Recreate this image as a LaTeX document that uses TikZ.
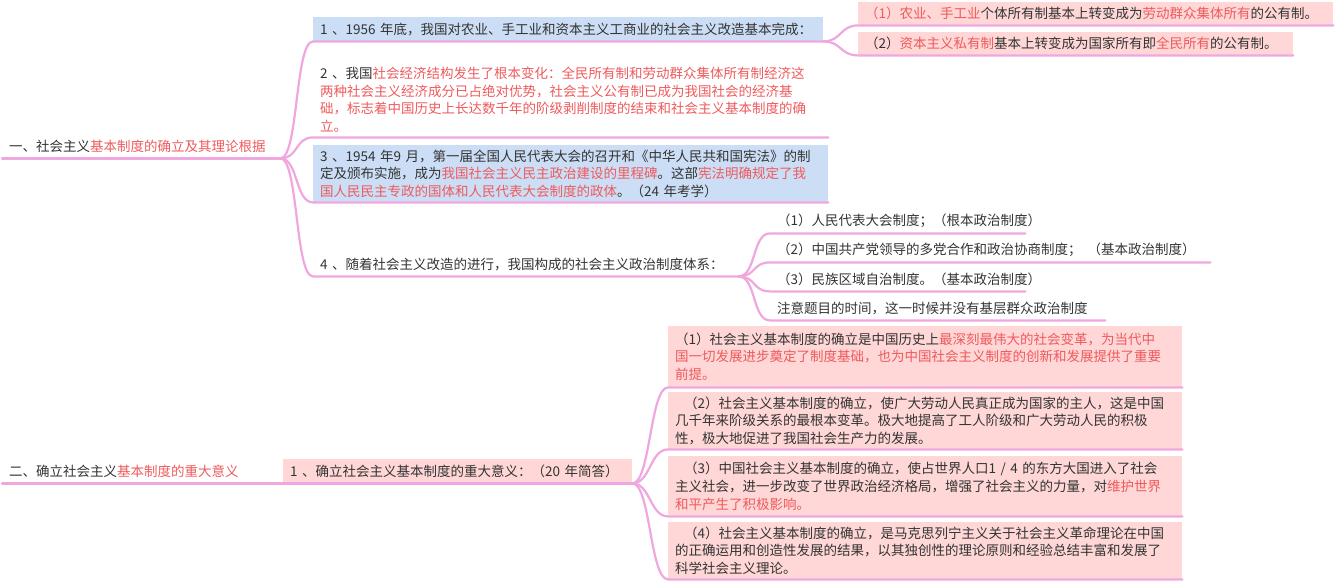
\documentclass[tikz,border=0pt]{standalone}
\usepackage{fontspec}
\setmainfont{Noto Sans CJK SC}

\definecolor{ink}{HTML}{333333}
\definecolor{hot}{HTML}{EE5A5C}
\definecolor{twig}{HTML}{F0A6DE}
\definecolor{skyfill}{HTML}{CCDEF6}
\definecolor{rosefill}{HTML}{FFD7D7}
\newcommand{\kw}[1]{\textcolor{hot}{#1}}

\begin{document}
\begin{tikzpicture}[
  x=1pt, y=-1pt,
  txt/.style={anchor=north west, inner xsep=7pt, inner ysep=0pt, align=left, text=ink, font=\fontsize{13.5pt}{17.7pt}\selectfont},
  bluebox/.style={txt, fill=skyfill},
  pinkbox/.style={txt, fill=rosefill},
  link/.style={draw=twig, line width=2.2pt, line cap=round}
]
\useasboundingbox (0,0) rectangle (1336,582);

% first main branch
\node[txt, text width=264pt, minimum height=24pt] (r1) at (2,134) {一、社会主义\kw{基本制度的确立及其理论根据}};
\node[bluebox, text width=496pt, minimum height=24pt] (n11) at (313,17) {1 、1956 年底，我国对农业、手工业和资本主义工商业的社会主义改造基本完成：};
\node[pinkbox, text width=461pt, minimum height=23pt] (n11a) at (858,2) {\kw{（1）农业、手工业}个体所有制基本上转变成为\kw{劳动群众集体所有}的公有制。};
\node[pinkbox, text width=421pt, minimum height=23pt] (n11b) at (858,32) {（2）\kw{资本主义私有制}基本上转变成为国家所有即\kw{全民所有}的公有制。};
\node[txt, text width=501pt, minimum height=75pt] (n12) at (313,62) {2 、我国\kw{社会经济结构发生了根本变化：全民所有制和劳动群众集体所有制经济这}\\
  \kw{两种社会主义经济成分已占绝对优势，社会主义公有制已成为我国社会的经济基}\\
  \kw{础，标志着中国历史上长达数千年的阶级剥削制度的结束和社会主义基本制度的确}\\
  \kw{立。}};
\node[bluebox, text width=501pt, minimum height=57pt] (n13) at (313,145) {3 、1954 年9 月，第一届全国人民代表大会的召开和《中华人民共和国宪法》的制\\
  定及颁布实施，成为\kw{我国社会主义民主政治建设的里程碑}。这部\kw{宪法明确规定了我}\\
  \kw{国人民民主专政的国体和人民代表大会制度的政体}。（24 年考学）};
\node[txt, text width=411pt, minimum height=24pt] (n14) at (313,252) {4 、随着社会主义改造的进行，我国构成的社会主义政治制度体系：};
\node[txt, text width=241pt, minimum height=24pt] (n14a) at (770,209) {（1）人民代表大会制度；（根本政治制度）};
\node[txt, text width=426pt, minimum height=24pt] (n14b) at (770,238) {（2）中国共产党领导的多党合作和政治协商制度；\hspace{6pt}（基本政治制度）};
\node[txt, text width=241pt, minimum height=24pt] (n14c) at (770,267) {（3）民族区域自治制度。（基本政治制度）};
\node[txt, text width=321pt, minimum height=24pt] (n14d) at (770,296) {注意题目的时间，这一时候并没有基层群众政治制度};

% second main branch
\node[txt, text width=267pt, minimum height=24pt] (r2) at (2,459) {二、确立社会主义\kw{基本制度的重大意义}};
\node[pinkbox, text width=335pt, minimum height=24pt] (n21) at (283,459) {1 、确立社会主义基本制度的重大意义：（20 年简答）};
\node[pinkbox, text width=500pt, minimum height=61pt] (n21a) at (668,326) {（1）社会主义基本制度的确立是中国历史上\kw{最深刻最伟大的社会变革，为当代中}\\
  \kw{国一切发展进步奠定了制度基础，也为中国社会主义制度的创新和发展提供了重要}\\
  \kw{前提。}};
\node[pinkbox, text width=500pt, minimum height=57pt] (n21b) at (668,392) {\hspace*{9pt}（2）社会主义基本制度的确立，使广大劳动人民真正成为国家的主人，这是中国\\
  几千年来阶级关系的最根本变革。极大地提高了工人阶级和广大劳动人民的积极\\
  性，极大地促进了我国社会生产力的发展。};
\node[pinkbox, text width=500pt, minimum height=60pt] (n21c) at (668,456) {\hspace*{9pt}（3）中国社会主义基本制度的确立，使占世界人口1 / 4 的东方大国进入了社会\\
  主义社会，进一步改变了世界政治经济格局，增强了社会主义的力量，对\kw{维护世界}\\
  \kw{和平产生了积极影响。}};
\node[pinkbox, text width=500pt, minimum height=57pt] (n21d) at (668,522) {\hspace*{9pt}（4）社会主义基本制度的确立，是马克思列宁主义关于社会主义革命理论在中国\\
  的正确运用和创造性发展的结果，以其独创性的理论原则和经验总结丰富和发展了\\
  科学社会主义理论。};

% branches
\draw[link] (r1.south west) -- (r1.south east);
\draw[link] (r1.south east) .. controls +(18,0) and +(-18,0) .. (n11.south west) -- (n11.south east);
\draw[link] (r1.south east) .. controls +(18,0) and +(-18,0) .. (n12.south west) -- (n12.south east);
\draw[link] (r1.south east) .. controls +(18,0) and +(-18,0) .. (n13.south west) -- (n13.south east);
\draw[link] (r1.south east) .. controls +(18,0) and +(-18,0) .. (n14.south west) -- (n14.south east);
\draw[link] (n11.south east) .. controls +(18,0) and +(-18,0) .. (n11a.south west) -- (n11a.south east);
\draw[link] (n11.south east) .. controls +(18,0) and +(-18,0) .. (n11b.south west) -- (n11b.south east);
\draw[link] (n14.south east) .. controls +(18,0) and +(-18,0) .. (n14a.south west) -- (n14a.south east);
\draw[link] (n14.south east) .. controls +(18,0) and +(-18,0) .. (n14b.south west) -- (n14b.south east);
\draw[link] (n14.south east) .. controls +(18,0) and +(-18,0) .. (n14c.south west) -- (n14c.south east);
\draw[link] (n14.south east) .. controls +(18,0) and +(-18,0) .. (n14d.south west) -- (n14d.south east);
\draw[link] (r2.south west) -- (r2.south east) -- (n21.south west) -- (n21.south east);
\draw[link] (n21.south east) .. controls +(18,0) and +(-18,0) .. (n21a.south west) -- (n21a.south east);
\draw[link] (n21.south east) .. controls +(18,0) and +(-18,0) .. (n21b.south west) -- (n21b.south east);
\draw[link] (n21.south east) .. controls +(18,0) and +(-18,0) .. (n21c.south west) -- (n21c.south east);
\draw[link] (n21.south east) .. controls +(18,0) and +(-18,0) .. (n21d.south west) -- (n21d.south east);
\end{tikzpicture}
\end{document}
